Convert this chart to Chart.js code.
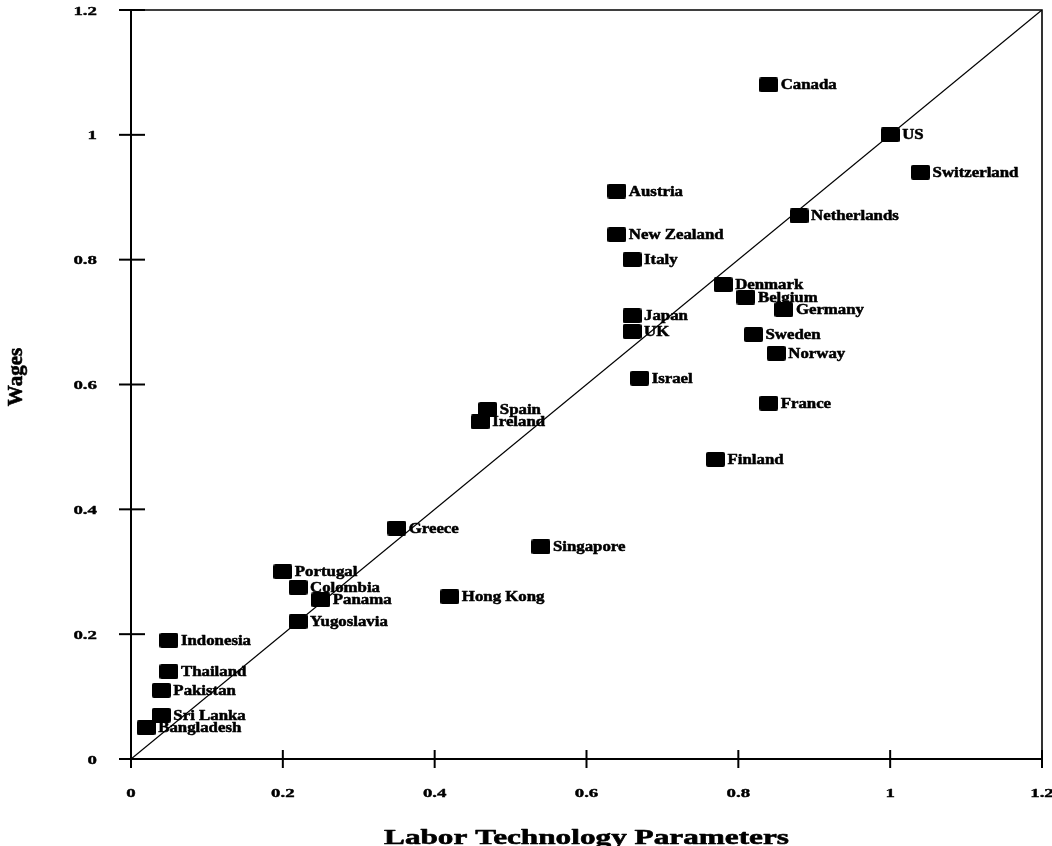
<!DOCTYPE html>
<html>
<head>
<meta charset="utf-8">
<script src="https://cdn.jsdelivr.net/npm/chart.js@4/dist/chart.umd.min.js"></script>
<style>
  html, body { margin: 0; padding: 0; background: #fff; }
  #wrap { width: 1052px; height: 846px; }
</style>
</head>
<body>
<div id="wrap"><canvas id="c" width="1052" height="846"></canvas></div>
<script>
// Countries with their labor technology parameter (x) and relative wage (y)
const countries = [
  'Canada', 'US', 'Switzerland', 'Netherlands', 'Austria', 'New Zealand', 'Italy',
  'Denmark', 'Belgium', 'Germany', 'Japan', 'UK', 'Sweden', 'Norway', 'Israel',
  'France', 'Spain', 'Ireland', 'Finland', 'Greece', 'Singapore', 'Portugal',
  'Colombia', 'Panama', 'Hong Kong', 'Yugoslavia', 'Indonesia', 'Thailand',
  'Pakistan', 'Sri Lanka', 'Bangladesh'
];
const laborTech = [
  0.84, 1.00, 1.04, 0.88, 0.64, 0.64, 0.66,
  0.78, 0.81, 0.86, 0.66, 0.66, 0.82, 0.85, 0.67,
  0.84, 0.47, 0.46, 0.77, 0.35, 0.54, 0.20,
  0.22, 0.25, 0.42, 0.22, 0.05, 0.05,
  0.04, 0.04, 0.02
];
const wages = [
  1.08, 1.00, 0.94, 0.87, 0.91, 0.84, 0.80,
  0.76, 0.74, 0.72, 0.71, 0.685, 0.68, 0.65, 0.61,
  0.57, 0.56, 0.54, 0.48, 0.37, 0.34, 0.30,
  0.275, 0.255, 0.26, 0.22, 0.19, 0.14,
  0.11, 0.07, 0.05
];
// 45-degree reference line
const diagX = [0, 1.2];
const diagY = [0, 1.2];
// Axis ticks
const tickValues = [0, 0.2, 0.4, 0.6, 0.8, 1, 1.2];
const tickLabels = ['0', '0.2', '0.4', '0.6', '0.8', '1', '1.2'];

const xTitle = 'Labor Technology Parameters';
const yTitle = 'Wages';

const SERIF = '"Liberation Serif", "Times New Roman", serif';

// Square marker image
function makeMarker() {
  const w = 19, h = 15;
  const cv = document.createElement('canvas');
  cv.width = w; cv.height = h;
  const g = cv.getContext('2d');
  g.fillStyle = '#000';
  g.beginPath();
  if (g.roundRect) g.roundRect(0, 0, w, h, 2); else g.rect(0, 0, w, h);
  g.fill();
  return cv;
}

// Heavy text with horizontal stretch
function stretchedText(ctx, text, x, y, font, sx, align, weight) {
  ctx.save();
  ctx.translate(x, y);
  ctx.scale(sx, 1);
  ctx.font = font;
  ctx.textAlign = align;
  ctx.textBaseline = 'alphabetic';
  ctx.fillStyle = '#000';
  ctx.strokeStyle = '#000';
  ctx.lineWidth = weight || 0.5;
  ctx.lineJoin = 'round';
  ctx.fillText(text, 0, 0);
  ctx.strokeText(text, 0, 0);
  ctx.restore();
}

const frameAndTicks = {
  id: 'frameAndTicks',
  afterDatasetsDraw(chart) {
    const { ctx, chartArea: a, scales } = chart;
    const xs = scales.x, ys = scales.y;
    ctx.save();
    ctx.strokeStyle = '#000';
    ctx.lineCap = 'butt';
    // frame
    ctx.lineWidth = 2;
    ctx.beginPath();
    ctx.moveTo(a.left, a.top); ctx.lineTo(a.left, a.bottom); ctx.lineTo(a.right, a.bottom);
    ctx.stroke();
    ctx.lineWidth = 1.6;
    ctx.beginPath();
    ctx.moveTo(a.left, a.top); ctx.lineTo(a.right, a.top); ctx.lineTo(a.right, a.bottom);
    ctx.stroke();
    // tick crosses and tick labels
    ctx.lineWidth = 2;
    tickValues.forEach((v, i) => {
      const py = ys.getPixelForValue(v);
      ctx.beginPath();
      ctx.moveTo(a.left - 12, py); ctx.lineTo(a.left + 14, py);
      ctx.stroke();
      const px = xs.getPixelForValue(v);
      ctx.beginPath();
      ctx.moveTo(px, a.bottom - 9); ctx.lineTo(px, a.bottom + 9);
      ctx.stroke();
      stretchedText(ctx, tickLabels[i], px, a.bottom + 38, 'bold 13px ' + SERIF, 1.45, 'center', 0.4);
      stretchedText(ctx, tickLabels[i], a.left - 34, py + 4.5, 'bold 13px ' + SERIF, 1.45, 'right', 0.4);
    });
    // axis titles
    stretchedText(ctx, xTitle, (a.left + a.right) / 2, 844, 'bold 22px ' + SERIF, 1.42, 'center', 0.6);
    ctx.save();
    ctx.translate(22, 377);
    ctx.rotate(-Math.PI / 2);
    ctx.font = 'bold 21px ' + SERIF;
    ctx.textAlign = 'center';
    ctx.textBaseline = 'alphabetic';
    ctx.fillStyle = '#000';
    ctx.strokeStyle = '#000';
    ctx.lineWidth = 0.6;
    ctx.fillText(yTitle, 0, 0);
    ctx.strokeText(yTitle, 0, 0);
    ctx.restore();
    // point labels
    const meta = chart.getDatasetMeta(1);
    meta.data.forEach((pt, i) => {
      stretchedText(ctx, countries[i], pt.x + 12, pt.y + 4.5, 'bold 14px ' + SERIF, 1.2, 'left', 0.5);
    });
    ctx.restore();
  }
};

const marker = makeMarker();

new Chart(document.getElementById('c'), {
  type: 'scatter',
  data: {
    datasets: [
      {
        type: 'line',
        data: diagX.map((x, i) => ({ x, y: diagY[i] })),
        borderColor: '#000',
        borderWidth: 1.3,
        pointRadius: 0,
        fill: false,
        order: 2
      },
      {
        data: laborTech.map((x, i) => ({ x, y: wages[i] })),
        pointStyle: marker,
        pointRadius: 9,
        backgroundColor: '#000',
        borderColor: '#000',
        order: 1
      }
    ]
  },
  options: {
    responsive: false,
    animation: false,
    events: [],
    layout: { padding: { top: 7, right: 10, left: 0, bottom: 0 } },
    plugins: { legend: { display: false }, tooltip: { enabled: false } },
    scales: {
      x: {
        type: 'linear', min: 0, max: 1.2,
        grid: { display: false }, border: { display: false },
        ticks: { display: false },
        afterFit(s) { s.height = 87; }
      },
      y: {
        type: 'linear', min: 0, max: 1.2,
        grid: { display: false }, border: { display: false },
        ticks: { display: false },
        afterFit(s) { s.width = 131; }
      }
    }
  },
  plugins: [frameAndTicks]
});
</script>
</body>
</html>
